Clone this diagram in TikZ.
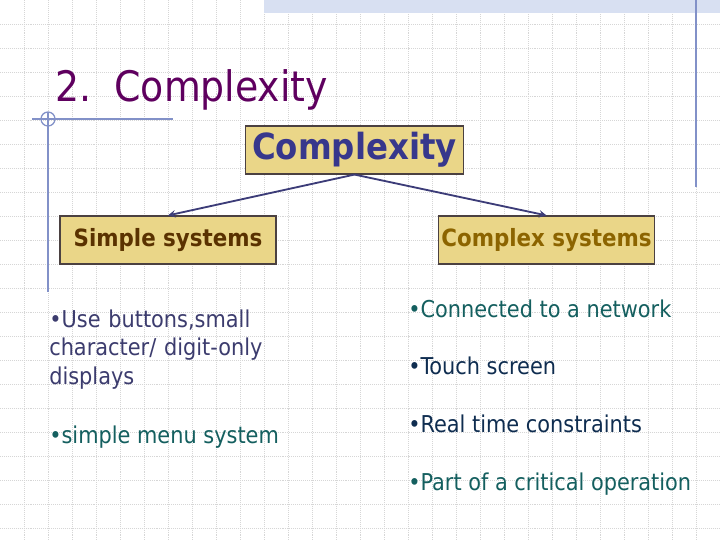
\documentclass[tikz,border=0pt]{standalone}
\usepackage{fontspec}
\setmainfont{DejaVu Sans Condensed}
\usetikzlibrary{arrows.meta}
\definecolor{titlepurple}{RGB}{95,0,95}
\definecolor{boxfill}{RGB}{234,214,136}
\definecolor{boxedge}{RGB}{75,65,65}
\definecolor{topblue}{RGB}{55,55,140}
\definecolor{simplebrown}{RGB}{90,50,0}
\definecolor{complexbrown}{RGB}{140,100,0}
\definecolor{linkblue}{RGB}{60,60,120}
\definecolor{slateblue}{RGB}{60,60,110}
\definecolor{tealtext}{RGB}{20,95,95}
\definecolor{navytext}{RGB}{15,45,80}
\definecolor{gridgray}{RGB}{214,214,214}
\definecolor{bandblue}{RGB}{216,224,242}
\definecolor{decoblue}{RGB}{130,145,200}

\begin{document}
\begin{tikzpicture}[
  x=0.025cm, y=-0.025cm,
  gridline/.style={gridgray, densely dotted, line width=0.4pt},
  decoline/.style={decoblue, line width=0.9pt},
  catbox/.style={draw=boxedge, fill=boxfill, line width=0.8pt, minimum width=5.4cm,
                 minimum height=1.2cm, inner sep=0pt, font=\fontsize{16.9}{20}\selectfont\bfseries},
  itemtext/.style={anchor=base west, inner sep=0pt, font=\fontsize{16.5}{20.6}\selectfont},
  link/.style={->, >=stealth, line width=1.3pt, linkblue}
]
  % background and grid
  \fill[white] (0,0) rectangle (720,540);
  \useasboundingbox (0,0) rectangle (720,540);
  \foreach \gx in {1,...,29} \draw[gridline] (24*\gx,0) -- (24*\gx,540);
  \foreach \gy in {1,...,22} \draw[gridline] (0,24*\gy) -- (720,24*\gy);
  \fill[bandblue] (264,0) rectangle (720,13);
  \draw[decoline] (696,0) -- (696,187);
  \draw[decoline] (32,119) -- (173,119);
  \draw[decoline] (48,112) -- (48,292);
  \draw[decoline] (48,119) circle [radius=7];

  % title
  \node[anchor=base west, inner sep=0pt, titlepurple, font=\fontsize{29.9}{34}\selectfont]
    (title) at (55,101) {2.\hspace{0.55em}Complexity};

  % tree
  \node[catbox, minimum width=5.43cm, text=topblue, font=\fontsize{25.6}{30}\selectfont\bfseries]
    (top) at (354.5,150) {Complexity};
  \node[catbox, text=simplebrown] (simple) at (168,240) {Simple systems};
  \node[catbox, text=complexbrown] (complex) at (546.5,240) {Complex systems};
  \draw[link] (top.south) -- (simple.north);
  \draw[link] (top.south) -- (complex.north);

  % simple systems
  \node[itemtext, text width=8cm, align=left, text=slateblue] (s1) at (49,327)
    {•Use buttons,small\\character/ digit-only\\displays};
  \node[itemtext, text=tealtext] (s2) at (49,443) {•simple menu system};

  % complex systems
  \node[itemtext, text=tealtext] (c1) at (408,317) {•Connected to a network};
  \node[itemtext, text=navytext] (c2) at (408,374) {•Touch screen};
  \node[itemtext, text=navytext] (c3) at (408,432) {•Real time constraints};
  \node[itemtext, text=tealtext] (c4) at (408,490) {•Part of a critical operation};
\end{tikzpicture}
\end{document}
